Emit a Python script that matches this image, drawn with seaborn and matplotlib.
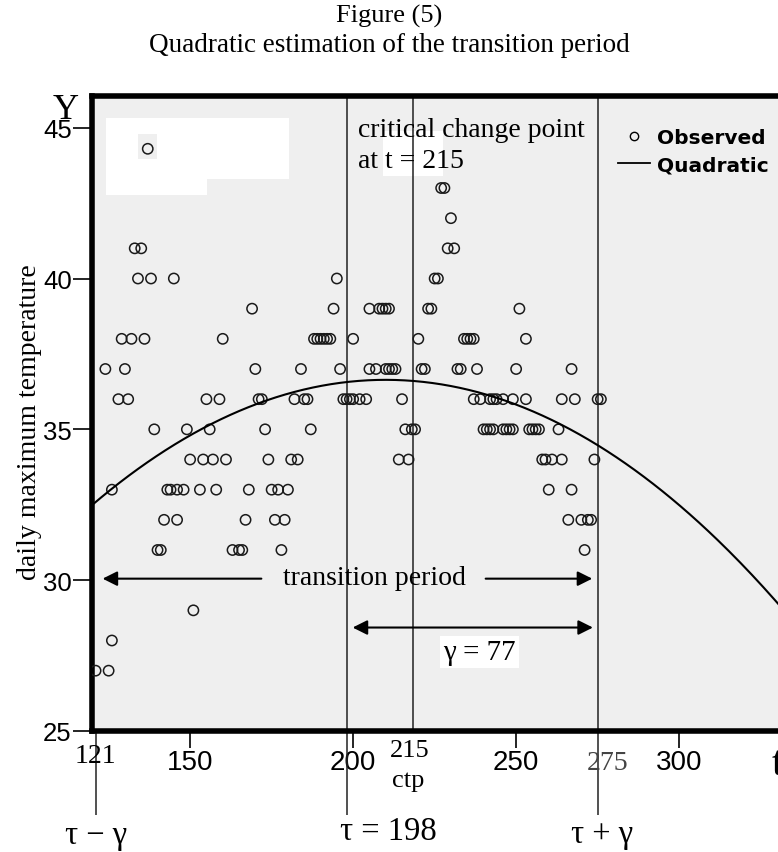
import numpy as np
import pandas as pd
import matplotlib
matplotlib.use("Agg")
import matplotlib.pyplot as plt
import seaborn as sns
from matplotlib.lines import Line2D
from matplotlib.patches import Rectangle

# ── data ─────────────────────────────────────────────────
# observed daily maximum temperature: one list of days per temperature level
obs_levels = [44.3, 43, 42, 41, 40, 39, 38, 37, 36, 35, 34, 33, 32, 31, 29, 28, 27]
obs_days = [
    [137],
    [227, 228],
    [230],
    [133, 135, 229, 231],
    [134, 138, 145, 195, 225, 226],
    [169, 194, 205, 208, 209, 210, 211, 223, 224, 251],
    [129, 132, 136, 160, 188, 189, 190, 191, 192, 193, 200, 220, 234, 235, 236, 237, 253],
    [124, 130, 170, 184, 196, 205, 207, 210, 211, 212, 213, 221, 222, 232, 233, 238, 250, 267],
    [128, 131, 155, 159, 171, 172, 182, 185, 186, 197, 198, 199, 200, 202, 204, 215,
     237, 239, 242, 243, 244, 246, 249, 253, 264, 268, 275, 276],
    [139, 149, 156, 173, 187, 216, 218, 219, 240, 241, 242, 243, 246, 247, 248, 249,
     254, 255, 256, 257, 263],
    [150, 154, 157, 161, 174, 181, 183, 214, 217, 258, 259, 261, 264, 274],
    [126, 143, 144, 146, 148, 153, 158, 168, 175, 177, 180, 260, 267],
    [142, 146, 167, 176, 179, 266, 270, 272, 273],
    [140, 141, 163, 165, 166, 178, 271],
    [151],
    [126],
    [121, 125],
]

# quadratic estimate  y = a t^2 + b t + c
quad_coef = [-5.12e-4, 0.2150, 14.07]

x_ticks = [150, 200, 250, 300]
y_ticks = [25, 30, 35, 40, 45]

tau = 198
gamma = 77
ctp = 215
ctp_drawn = 218.5          # where the ctp line sits in the figure
tau_minus = tau - gamma    # 121
tau_plus = tau + gamma     # 275

x_lim = (119.9, 330.8)
y_lim = (25, 46.05)

# ── build frames ─────────────────────────────────────────
obs = pd.DataFrame(
    [(d, lev) for lev, days in zip(obs_levels, obs_days) for d in days],
    columns=["day", "temp"],
)
t_grid = np.linspace(x_lim[0], x_lim[1], 300)
quad = pd.DataFrame({"day": t_grid, "temp": np.polyval(quad_coef, t_grid)})

serif = "Liberation Serif"
sans = "Liberation Sans"
plt.rcParams["font.family"] = [sans, "DejaVu Sans"]

W, H = 778, 853
fig = plt.figure(figsize=(W / 100, H / 100), dpi=100)
ax = fig.add_axes([92 / W, 121 / H, 1 - 92 / W + 0.002, 635 / H])
ax.set_facecolor("#efefef")

sns.lineplot(data=quad, x="day", y="temp", color="black", lw=1.5, ax=ax, zorder=4)
sns.scatterplot(data=obs, x="day", y="temp", marker="o", s=55, ax=ax,
                legend=False, zorder=3)
pts = ax.collections[-1]
pts.set_facecolor("none")
pts.set_edgecolor("#1a1a1a")
pts.set_linewidth(1.1)

ax.set_xlim(*x_lim)
ax.set_ylim(*y_lim)

# white patches left in the original graphic
ax.add_patch(Rectangle((124.2, 43.3), 56.0, 2.02, fc="white", ec="none", zorder=1))
ax.add_patch(Rectangle((124.2, 42.77), 31.0, 0.53, fc="white", ec="none", zorder=1))
ax.add_patch(Rectangle((134.0, 43.97), 5.9, 0.83, fc="#efefef", ec="none", zorder=1))
ax.add_patch(Rectangle((209.3, 43.4), 18.4, 1.5, fc="white", ec="none", zorder=1))

# vertical reference lines
trans = ax.get_xaxis_transform()
ax.vlines([tau, tau_plus], -0.132, 1, transform=trans, color="#222222", lw=1.1,
          clip_on=False, zorder=2)
ax.vlines([ctp_drawn], 0, 1, transform=trans, color="#222222", lw=1.1, zorder=2)
ax.vlines([tau_minus], -0.132, 0, transform=trans, color="#222222", lw=1.1,
          clip_on=False, zorder=2)

# spines
for s in ["left", "top", "bottom"]:
    ax.spines[s].set_linewidth(4)
    ax.spines[s].set_color("black")
ax.spines["right"].set_visible(False)

ax.set_xticks(x_ticks)
ax.set_xticklabels([str(v) for v in x_ticks])
ax.set_yticks(y_ticks)
ax.set_yticklabels([str(v) for v in y_ticks])
ax.tick_params(axis="x", length=12, width=1.2, pad=1, labelsize=20, direction="out")
ax.tick_params(axis="y", length=14, width=1.2, pad=0.5, labelsize=18.5, direction="out")
ax.set_xlabel("")
ax.set_ylabel("daily maximum temperature", family=serif, fontsize=20)
ax.yaxis.set_label_coords(-0.073, 0.488)

# legend
handles = [
    Line2D([], [], marker="o", ls="none", mfc="none", mec="black", ms=6, mew=1.0),
    Line2D([], [], color="black", lw=1.3),
]
ax.legend(handles, ["Observed", "Quadratic"], loc="upper left",
          bbox_to_anchor=(0.765, 0.949), frameon=False,
          prop=dict(family="DejaVu Sans", weight="bold", size=14.5),
          handlelength=1.6, handletextpad=0.35, labelspacing=0.4,
          borderpad=0, borderaxespad=0)

# annotations inside the plot
ax.text(201.6, 45.35, "critical change point\nat t = %d" % ctp, family=serif,
        fontsize=20, va="top", ha="left", linespacing=1.3, zorder=5)

ax.annotate("", xy=(tau_minus + 1.3, 30.05), xytext=(172.7, 30.05),
            arrowprops=dict(arrowstyle="-|>", color="black", lw=1.5, mutation_scale=22))
ax.annotate("", xy=(tau_plus - 0.8, 30.05), xytext=(239.8, 30.05),
            arrowprops=dict(arrowstyle="-|>", color="black", lw=1.5, mutation_scale=22))
ax.text(206.5, 30.1, "transition period", family=serif, fontsize=20,
        ha="center", va="center", zorder=5)

ax.annotate("", xy=(tau + 1.0, 28.43), xytext=(tau_plus - 0.6, 28.43),
            arrowprops=dict(arrowstyle="<|-|>", color="black", lw=1.5, mutation_scale=22))
ax.text(238.8, 27.63, "γ = %d" % gamma, family=serif, fontsize=21,
        ha="center", va="center", zorder=5,
        bbox=dict(fc="white", ec="none", pad=2))

# labels below the axis
ax.text(tau_minus, -0.039, str(tau_minus), transform=trans, family=serif,
        fontsize=20, ha="center", va="center")
ax.text(ctp_drawn - 1, -0.030, str(ctp), transform=trans, family=serif,
        fontsize=19, ha="center", va="center")
ax.text(ctp_drawn - 1.5, -0.077, "ctp", transform=trans, family=serif,
        fontsize=19, ha="center", va="center")
ax.text(tau_plus + 3, -0.049, str(tau_plus), transform=trans, family=serif,
        fontsize=20, ha="center", va="center", color="#444444")
ax.text(tau_minus, -0.163, "τ − γ", transform=trans, family=serif,
        fontsize=23.5, ha="center", va="center", clip_on=False)
ax.text(tau - 2, -0.157, "τ = %d" % tau, transform=trans, family=serif,
        fontsize=23.5, ha="left", va="center", clip_on=False)
ax.text(tau_plus + 1.3, -0.162, "τ + γ", transform=trans, family=serif,
        fontsize=23.5, ha="center", va="center", clip_on=False)
ax.text(328.3, -0.052, "t", transform=trans, family=serif,
        fontsize=30, ha="left", va="center", clip_on=False)
ax.text(-0.038, 0.978, "Y", transform=ax.transAxes, family=serif,
        fontsize=26, ha="center", va="center", clip_on=False)

# title
fig.text(389 / W, 1 - 16 / H, "Figure (5)", family=serif, fontsize=19,
         ha="center", va="center")
fig.text(389 / W, 1 - 46 / H, "Quadratic estimation of the transition period",
         family=serif, fontsize=19.5, ha="center", va="center")

fig.savefig("out.png", dpi=100)
